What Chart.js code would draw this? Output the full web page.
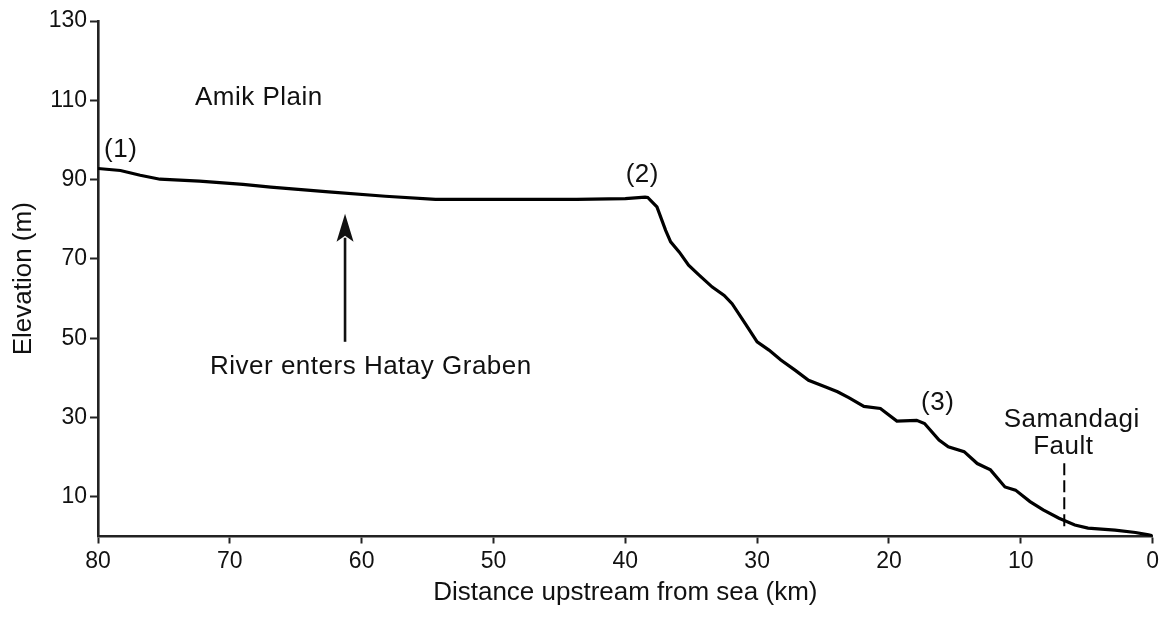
<!DOCTYPE html>
<html>
<head>
<meta charset="utf-8">
<script src="https://cdn.jsdelivr.net/npm/chart.js@4.4.1/dist/chart.umd.min.js"></script>
<style>
  html, body { margin: 0; padding: 0; background: #fff; }
  #wrap { width: 1163px; height: 617px; }
</style>
</head>
<body>
<div id="wrap"><canvas id="profile" width="1163" height="617"></canvas></div>
<script>
// Longitudinal river profile: distance upstream from the sea (km) vs. elevation (m)
const distanceKm = [
  80.0, 78.3, 76.8, 75.3, 72.3, 69.0, 66.9, 62.5, 58.2, 54.4,
  49.5, 43.7, 40.0, 38.5, 38.3, 37.6, 36.94, 36.56, 35.9, 35.2,
  34.4, 33.4, 32.5, 31.9, 30.9, 30.0, 29.1, 28.2, 27.1, 26.1,
  24.8, 23.9, 23.05, 21.9, 20.65, 19.4, 17.9, 17.3, 16.2, 15.5,
  14.3, 13.3, 12.3, 11.2, 10.4, 9.3, 8.3, 7.1, 5.9, 4.9,
  2.85, 1.3, 0.3, 0.0
];
const elevationM = [
  92.8, 92.3, 91.1, 90.1, 89.6, 88.8, 88.1, 86.9, 85.8, 85.0,
  85.0, 85.0, 85.2, 85.6, 85.5, 83.1, 77.2, 74.3, 71.7, 68.4,
  65.9, 62.9, 60.8, 58.7, 53.7, 49.1, 47.0, 44.5, 41.9, 39.4,
  37.7, 36.5, 35.0, 32.8, 32.3, 29.1, 29.3, 28.5, 24.3, 22.6,
  21.4, 18.4, 16.8, 12.5, 11.7, 8.8, 6.7, 4.6, 2.9, 2.1,
  1.6, 1.0, 0.4, 0.2
];

// Samandagi Fault trace (dashed)
const faultKm = [6.7, 6.7];
const faultElevM = [18.5, 1.6];

// Axis tick labels
const xTickValues = [80, 70, 60, 50, 40, 30, 20, 10, 0];
const yTickValues = [10, 30, 50, 70, 90, 110, 130];

const FONT = '"Liberation Sans", Arial, Helvetica, sans-serif';
const INK = '#111';

const toPoints = (xs, ys) => xs.map((x, i) => ({ x: x, y: ys[i] }));

// Text annotations and the arrow, placed in data units
const notes = [
  { text: 'Amik Plain', km: 67.8, m: 108.9 },
  { text: '(1)', km: 78.28, m: 95.7 },
  { text: '(2)', km: 38.71, m: 89.4 },
  { text: '(3)', km: 16.3, m: 31.9 },
  { text: 'River enters Hatay Graben', km: 59.3, m: 40.9 },
  { text: 'Samandagi', km: 6.14, m: 27.7 },
  { text: 'Fault', km: 6.77, m: 20.8 }
];
const arrow = { km: 61.26, fromM: 49.1, toM: 81.4 };

const annotationPlugin = {
  id: 'profileNotes',
  afterDatasetsDraw(chart) {
    const { ctx, scales: { x, y } } = chart;
    ctx.save();
    ctx.fillStyle = INK;
    ctx.font = '26px ' + FONT;
    if ('letterSpacing' in ctx) ctx.letterSpacing = '0.5px';
    ctx.textAlign = 'center';
    ctx.textBaseline = 'alphabetic';
    notes.forEach(n => {
      ctx.fillText(n.text, x.getPixelForValue(n.km), y.getPixelForValue(n.m));
    });

    // upward arrow
    const ax = x.getPixelForValue(arrow.km);
    const y0 = y.getPixelForValue(arrow.fromM);
    const y1 = y.getPixelForValue(arrow.toM);
    const headLen = 28, headHalf = 8.5;
    ctx.strokeStyle = INK;
    ctx.lineWidth = 2.6;
    ctx.beginPath();
    ctx.moveTo(ax, y0);
    ctx.lineTo(ax, y1 + headLen - 4);
    ctx.stroke();
    ctx.beginPath();
    ctx.moveTo(ax, y1);
    ctx.lineTo(ax + headHalf, y1 + headLen);
    ctx.lineTo(ax, y1 + headLen - 6);
    ctx.lineTo(ax - headHalf, y1 + headLen);
    ctx.closePath();
    ctx.fill();
    ctx.restore();
  }
};

new Chart(document.getElementById('profile'), {
  type: 'line',
  data: {
    datasets: [
      {
        data: toPoints(distanceKm, elevationM),
        borderColor: '#000',
        borderWidth: 3.2,
        pointRadius: 0,
        tension: 0,
        fill: false
      },
      {
        data: toPoints(faultKm, faultElevM),
        borderColor: '#000',
        borderWidth: 2,
        borderDash: [12, 5],
        pointRadius: 0,
        fill: false
      }
    ]
  },
  options: {
    responsive: false,
    animation: false,
    devicePixelRatio: 1,
    layout: { padding: { top: 21, right: 9, bottom: 0, left: 0 } },
    plugins: { legend: { display: false }, tooltip: { enabled: false } },
    scales: {
      x: {
        type: 'linear',
        reverse: true,
        min: 0,
        max: 80,
        afterBuildTicks(scale) { scale.ticks = xTickValues.map(v => ({ value: v })); },
        afterFit(scale) { scale.height = 80.5; },
        ticks: { color: INK, font: { family: FONT, size: 23 }, padding: 4, maxRotation: 0 },
        grid: { drawOnChartArea: false, drawTicks: true, tickLength: 7, tickColor: '#222', tickWidth: 2 },
        border: { color: '#222', width: 2.6 },
        title: {
          display: true,
          text: 'Distance upstream from sea (km)',
          color: INK,
          font: { family: FONT, size: 26 },
          padding: { top: 0, bottom: 9 }
        }
      },
      y: {
        type: 'linear',
        min: 0,
        max: 130,
        afterBuildTicks(scale) { scale.ticks = yTickValues.map(v => ({ value: v })); },
        afterFit(scale) { scale.width = 98; },
        ticks: { color: INK, font: { family: FONT, size: 23 }, padding: 3 },
        grid: { drawOnChartArea: false, drawTicks: true, tickLength: 8, tickColor: '#222', tickWidth: 2 },
        border: { color: '#222', width: 2.6 },
        title: {
          display: true,
          text: 'Elevation (m)',
          color: INK,
          font: { family: FONT, size: 26 },
          padding: { top: 8, bottom: 0 }
        }
      }
    }
  },
  plugins: [annotationPlugin]
});
</script>
</body>
</html>
